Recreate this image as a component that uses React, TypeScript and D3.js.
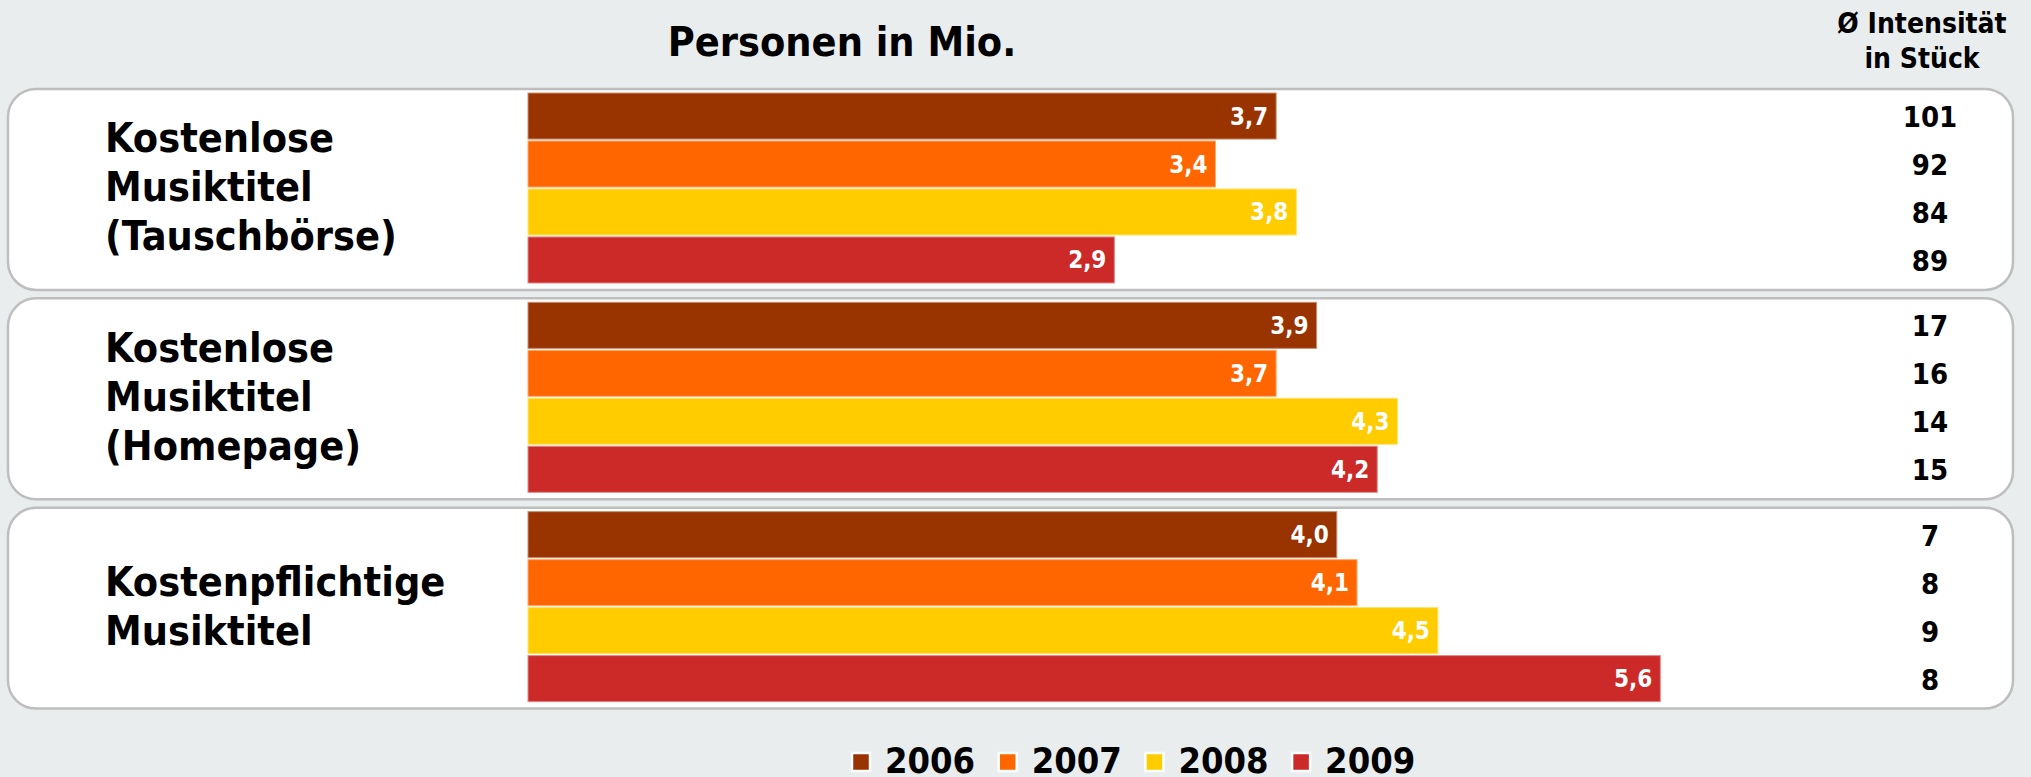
import React from "react";
import * as d3 from "d3";

const categoryLines: string[][] = [
  ["Kostenlose", "Musiktitel", "(Tauschbörse)"],
  ["Kostenlose", "Musiktitel", "(Homepage)"],
  ["Kostenpflichtige", "Musiktitel"],
];
const years = ["2006", "2007", "2008", "2009"];
const values2006 = [3.7, 3.9, 4.0];
const values2007 = [3.4, 3.7, 4.1];
const values2008 = [3.8, 4.3, 4.5];
const values2009 = [2.9, 4.2, 5.6];
const intensity2006 = [101, 17, 7];
const intensity2007 = [92, 16, 8];
const intensity2008 = [84, 14, 9];
const intensity2009 = [89, 15, 8];
const yearColors = ["#993300", "#FF6600", "#FFCC00", "#CC2929"];

const titleText = "Personen in Mio.";
const rightHeader = ["Ø Intensität", "in Stück"];

const W = 2031;
const H = 777;
const FONT = "'DejaVu Sans Condensed', 'DejaVu Sans', sans-serif";

const seriesValues = [values2006, values2007, values2008, values2009];
const seriesIntensity = [intensity2006, intensity2007, intensity2008, intensity2009];

export default function App() {
  const cats = categoryLines.map((_, i) => String(i));
  const yGroup = d3.scaleBand<string>().domain(cats).range([89, 708.6]).paddingInner(0.04);
  const yInner = d3.scaleBand<string>().domain(years).range([4, 194]).paddingInner(0.04);
  const x = d3.scaleLinear().domain([0, 6]).range([528, 528 + 6 * 202.2]);
  const fmt = (v: number) => d3.format(".1f")(v).replace(".", ",");
  const panelLeft = 8;
  const panelRight = 2013;
  const legendX = d3.scaleBand<string>().domain(years).range([850, 850 + 4 * 146.7]);

  return (
    <svg
      width={W}
      height={H}
      style={{ position: "absolute", left: 0, top: 0, background: "#E9EDED" }}
      fontFamily={FONT}
    >
      <rect x={0} y={0} width={W} height={H} fill="#E9EDED" />
      <text
        x={842}
        y={56}
        textAnchor="middle"
        fontSize={41}
        fontWeight="bold"
        style={{ fontStretch: "condensed" }}
      >
        {titleText}
      </text>
      {rightHeader.map((t, i) => (
        <text
          key={t}
          x={1922}
          y={33 + i * 35}
          textAnchor="middle"
          fontSize={28}
          fontWeight="bold"
          style={{ fontStretch: "condensed" }}
        >
          {t}
        </text>
      ))}
      {cats.map((c, ci) => {
        const top = yGroup(c)!;
        const h = yGroup.bandwidth();
        const center = top + h / 2;
        const lines = categoryLines[ci];
        return (
          <g key={c}>
            <rect
              x={panelLeft}
              y={top}
              width={panelRight - panelLeft}
              height={h}
              rx={28}
              ry={28}
              fill="#ffffff"
              stroke="#BEBEBE"
              strokeWidth={2.5}
            />
            {lines.map((ln, li) => (
              <text
                key={li}
                x={105}
                y={center + 12 + (li - (lines.length - 1) / 2) * 49}
                fontSize={41}
                fontWeight="bold"
                style={{ fontStretch: "condensed" }}
              >
                {ln}
              </text>
            ))}
            {years.map((yr, si) => {
              const v = seriesValues[si][ci];
              const by = top + yInner(yr)!;
              const bh = yInner.bandwidth();
              const col = yearColors[si];
              return (
                <g key={yr}>
                  <rect
                    x={x(0)}
                    y={by}
                    width={x(v) - x(0)}
                    height={bh}
                    fill={col}
                    stroke={d3.interpolateRgb(col, "#ffffff")(0.45)}
                    strokeWidth={1}
                  />
                  <text
                    x={x(v) - 8}
                    y={by + bh / 2 + 8.5}
                    textAnchor="end"
                    fill="#ffffff"
                    fontSize={24}
                    fontWeight="bold"
                    style={{ fontStretch: "condensed" }}
                  >
                    {fmt(v)}
                  </text>
                  <text
                    x={1930}
                    y={by + bh / 2 + 11}
                    textAnchor="middle"
                    fill="#000000"
                    fontSize={29}
                    fontWeight="bold"
                    style={{ fontStretch: "condensed" }}
                  >
                    {seriesIntensity[si][ci]}
                  </text>
                </g>
              );
            })}
          </g>
        );
      })}
      {years.map((yr, si) => {
        const lx = legendX(yr)!;
        return (
          <g key={yr}>
            <rect x={lx + 2} y={753} width={18} height={18} fill={yearColors[si]} stroke="#ffffff" strokeWidth={2.5} />
            <text x={lx + 35} y={773} fontSize={36} fontWeight="bold" style={{ fontStretch: "condensed" }}>
              {yr}
            </text>
          </g>
        );
      })}
    </svg>
  );
}
